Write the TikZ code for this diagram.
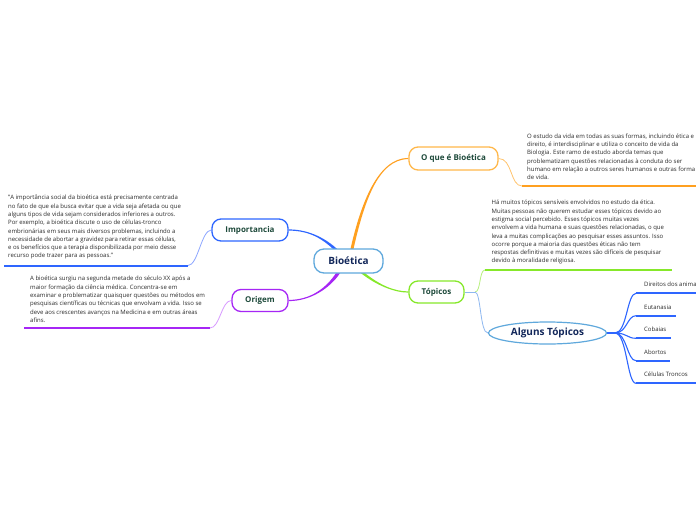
\documentclass[tikz,border=0pt]{standalone}
\usepackage{fontspec}
\setmainfont{Open Sans}
\usetikzlibrary{calc,shapes.geometric,backgrounds}
\definecolor{cOrange}{HTML}{FFA020}
\definecolor{cOrangeL}{HTML}{FFC46E}
\definecolor{cOrangeB}{HTML}{FFB84A}
\definecolor{cBlue}{HTML}{2E66FF}
\definecolor{cBlueL}{HTML}{8DA6FF}
\definecolor{cPurple}{HTML}{A626F5}
\definecolor{cPurpleL}{HTML}{D89BFF}
\definecolor{cGreen}{HTML}{86E82A}
\definecolor{cGreenL}{HTML}{B8F07E}
\definecolor{cSky}{HTML}{5FA8DC}
\definecolor{cSkyL}{HTML}{8EB8F0}
\definecolor{cTitle}{HTML}{1E4A3B}
\definecolor{cNavy}{HTML}{12275A}
\definecolor{cBody}{HTML}{2B2B2B}
\begin{document}
\begin{tikzpicture}[x=1pt,y=-1pt,
  topic/.style={draw, line width=1.3pt, fill=white, rounded corners=9pt,
    font=\fontsize{8}{10}\selectfont\bfseries, text=cTitle, inner sep=0pt},
  body/.style={font=\fontsize{6}{8.3}\selectfont, text=cBody, align=left,
    anchor=north west, inner sep=0pt},
  item/.style={font=\fontsize{6}{7}\selectfont, text=cBody, anchor=base west, inner sep=0pt},
  uline/.style={line width=2pt},
  twig/.style={line width=0.8pt},
  fan/.style={line width=1.1pt, cBlue},
]
\useasboundingbox (0,0) rectangle (696,520);

% ---- nodes
\node[topic, draw=cSky, text=cNavy, font=\fontsize{10}{12}\selectfont\bfseries,
  minimum width=69pt, minimum height=24pt, rounded corners=10pt] (root) at (348.5,261) {Bioética};
\node[topic, draw=cOrangeB, minimum width=89pt, minimum height=23pt] (qwhat) at (453.5,158.5) {O que é Bioética};
\node[topic, draw=cBlue, minimum width=76pt, minimum height=22pt] (imp) at (250,230) {Importancia};
\node[topic, draw=cPurple, minimum width=56pt, minimum height=22pt] (ori) at (260,300.5) {Origem};
\node[topic, draw=cGreen, minimum width=55pt, minimum height=22pt] (top) at (436.5,292) {Tópicos};
\node[ellipse, draw=cSky, line width=1.2pt, fill=white, minimum width=118pt, minimum height=22pt,
  inner sep=0pt, font=\fontsize{10}{12}\selectfont\bfseries, text=cNavy] (alg) at (547.5,333) {Alguns Tópicos};

\node[body] (t1) at (527,133.5) {O estudo da vida em todas as suas formas, incluindo ética e\\
direito, é interdisciplinar e utiliza o conceito de vida da\\
Biologia. Este ramo de estudo aborda temas que\\
problematizam questões relacionadas à conduta do ser\\
humano em relação a outros seres humanos e outras forma\\
de vida.};

\node[body] (t2) at (491.5,200) {Há muitos tópicos sensíveis envolvidos no estudo da ética.\\
Muitas pessoas não querem estudar esses tópicos devido ao\\
estigma social percebido. Esses tópicos muitas vezes\\
envolvem a vida humana e suas questões relacionadas, o que\\
leva a muitas complicações ao pesquisar esses assuntos. Isso\\
ocorre porque a maioria das questões éticas não tem\\
respostas definitivas e muitas vezes são difíceis de pesquisar\\
devido à moralidade religiosa.};

\node[body] (t3) at (8,195) {"A importância social da bioética está precisamente centrada\\
no fato de que ela busca evitar que a vida seja afetada ou que\\
alguns tipos de vida sejam considerados inferiores a outros.\\
Por exemplo, a bioética discute o uso de células-tronco\\
embrionárias em seus mais diversos problemas, incluindo a\\
necessidade de abortar a gravidez para retirar essas células,\\
e os benefícios que a terapia disponibilizada por meio desse\\
recurso pode trazer para as pessoas."};

\node[body] (t4) at (30,276) {A bioética surgiu na segunda metade do século XX após a\\
maior formação da ciência médica. Concentra-se em\\
examinar e problematizar quaisquer questões ou métodos em\\
pesquisas científicas ou técnicas que envolvam a vida. Isso se\\
deve aos crescentes avanços na Medicina e em outras áreas\\
afins.};

\node[item] (i1) at (644,286.8) {Direitos dos anima};
\node[item] (i2) at (644,309.2) {Eutanasia};
\node[item] (i3) at (644,331.8) {Cobaias};
\node[item] (i4) at (644,354.2) {Abortos};
\node[item] (i5) at (644,376.8) {Células Troncos};

% ---- coordinates (free ends)
\coordinate (u1a) at (522,186);   \coordinate (u1b) at (696,186);
\coordinate (u2a) at (485,270);   \coordinate (u2b) at (672,270);
\coordinate (u3a) at (4,265.5);   \coordinate (u3b) at (188,265.5);
\coordinate (u4a) at (24,328);    \coordinate (u4b) at (210,328);
\coordinate (h2) at (475,292);
\coordinate (h3) at (615,333);
\coordinate (v1a) at (636,293.3); \coordinate (v1b) at (696,293.3);
\coordinate (v2a) at (636,315.7); \coordinate (v2b) at (676,315.7);
\coordinate (v3a) at (636,338.3); \coordinate (v3b) at (671,338.3);
\coordinate (v4a) at (636,360.7); \coordinate (v4b) at (670,360.7);
\coordinate (v5a) at (636,383.3); \coordinate (v5b) at (696,383.3);

\begin{pgfonlayer}{background}
\fill[white] (0,0) rectangle (696,520);
% tapered main branches
\fill[cOrange] ($(root.north)+(2,0.5)$) .. controls +(10,-44) and +(-31,0) .. ($(qwhat.west)+(0,-0.6)$)
  -- ($(qwhat.west)+(0,0.6)$) .. controls +(-31,0) and +(10,-44) .. ($(root.north)+(5,0.5)$) -- cycle;
\fill[cBlue] ($(imp.east)+(0,-0.6)$) .. controls +(22,0) and +(-10,-9) .. ($(root.north)+(-11.5,0.5)$)
  -- ($(root.north)+(-15.5,0.5)$) .. controls +(-10,-9) and +(22,0) .. ($(imp.east)+(0,0.6)$) -- cycle;
\fill[cPurple] ($(ori.east)+(0,-0.6)$) .. controls +(22,0) and +(-10,15) .. ($(root.south)+(-12.5,-0.5)$)
  -- ($(root.south)+(-8.5,-0.5)$) .. controls +(-10,15) and +(22,0) .. ($(ori.east)+(0,0.6)$) -- cycle;
\fill[cGreen] ($(root.south)+(16.5,-0.5)$) .. controls +(15,12) and +(-14,0) .. ($(top.west)+(0,-0.6)$)
  -- ($(top.west)+(0,0.6)$) .. controls +(-14,0) and +(15,12) .. ($(root.south)+(12.5,-0.5)$) -- cycle;

% twigs and underlines
\draw[twig, cOrangeL] (qwhat.east) .. controls +(14,0) and +(-12,0) .. (u1a);
\draw[uline, cOrange] (u1a) -- (u1b);
\draw[twig, cSkyL] (top.east) -- (h2);
\draw[twig, cGreenL] (h2) .. controls +(6,0) and +(-6,0) .. (u2a);
\draw[uline, cGreen] (u2a) -- (u2b);
\draw[twig, cSkyL] (h2) .. controls +(6,0) and +(-8,0) .. (alg.west);
\draw[twig, cBlueL] (imp.west) .. controls +(-10,0) and +(10,0) .. (u3b);
\draw[uline, cBlue] (u3a) -- (u3b);
\draw[twig, cPurpleL] (ori.west) .. controls +(-10,0) and +(10,0) .. (u4b);
\draw[uline, cPurple] (u4a) -- (u4b);

\draw[line width=1.6pt, cBlue] (alg.east) -- (h3);
\draw[fan] (h3) .. controls +(12,0) and +(-9,0) .. (v1a);
\draw[fan] (h3) .. controls +(12,0) and +(-9,0) .. (v2a);
\draw[fan] (h3) .. controls +(12,0) and +(-9,0) .. (v3a);
\draw[fan] (h3) .. controls +(12,0) and +(-9,0) .. (v4a);
\draw[fan] (h3) .. controls +(12,0) and +(-9,0) .. (v5a);
\draw[uline, cBlue] (v1a) -- (v1b);
\draw[uline, cBlue] (v2a) -- (v2b);
\draw[uline, cBlue] (v3a) -- (v3b);
\draw[uline, cBlue] (v4a) -- (v4b);
\draw[uline, cBlue] (v5a) -- (v5b);
\end{pgfonlayer}
\end{tikzpicture}
\end{document}
